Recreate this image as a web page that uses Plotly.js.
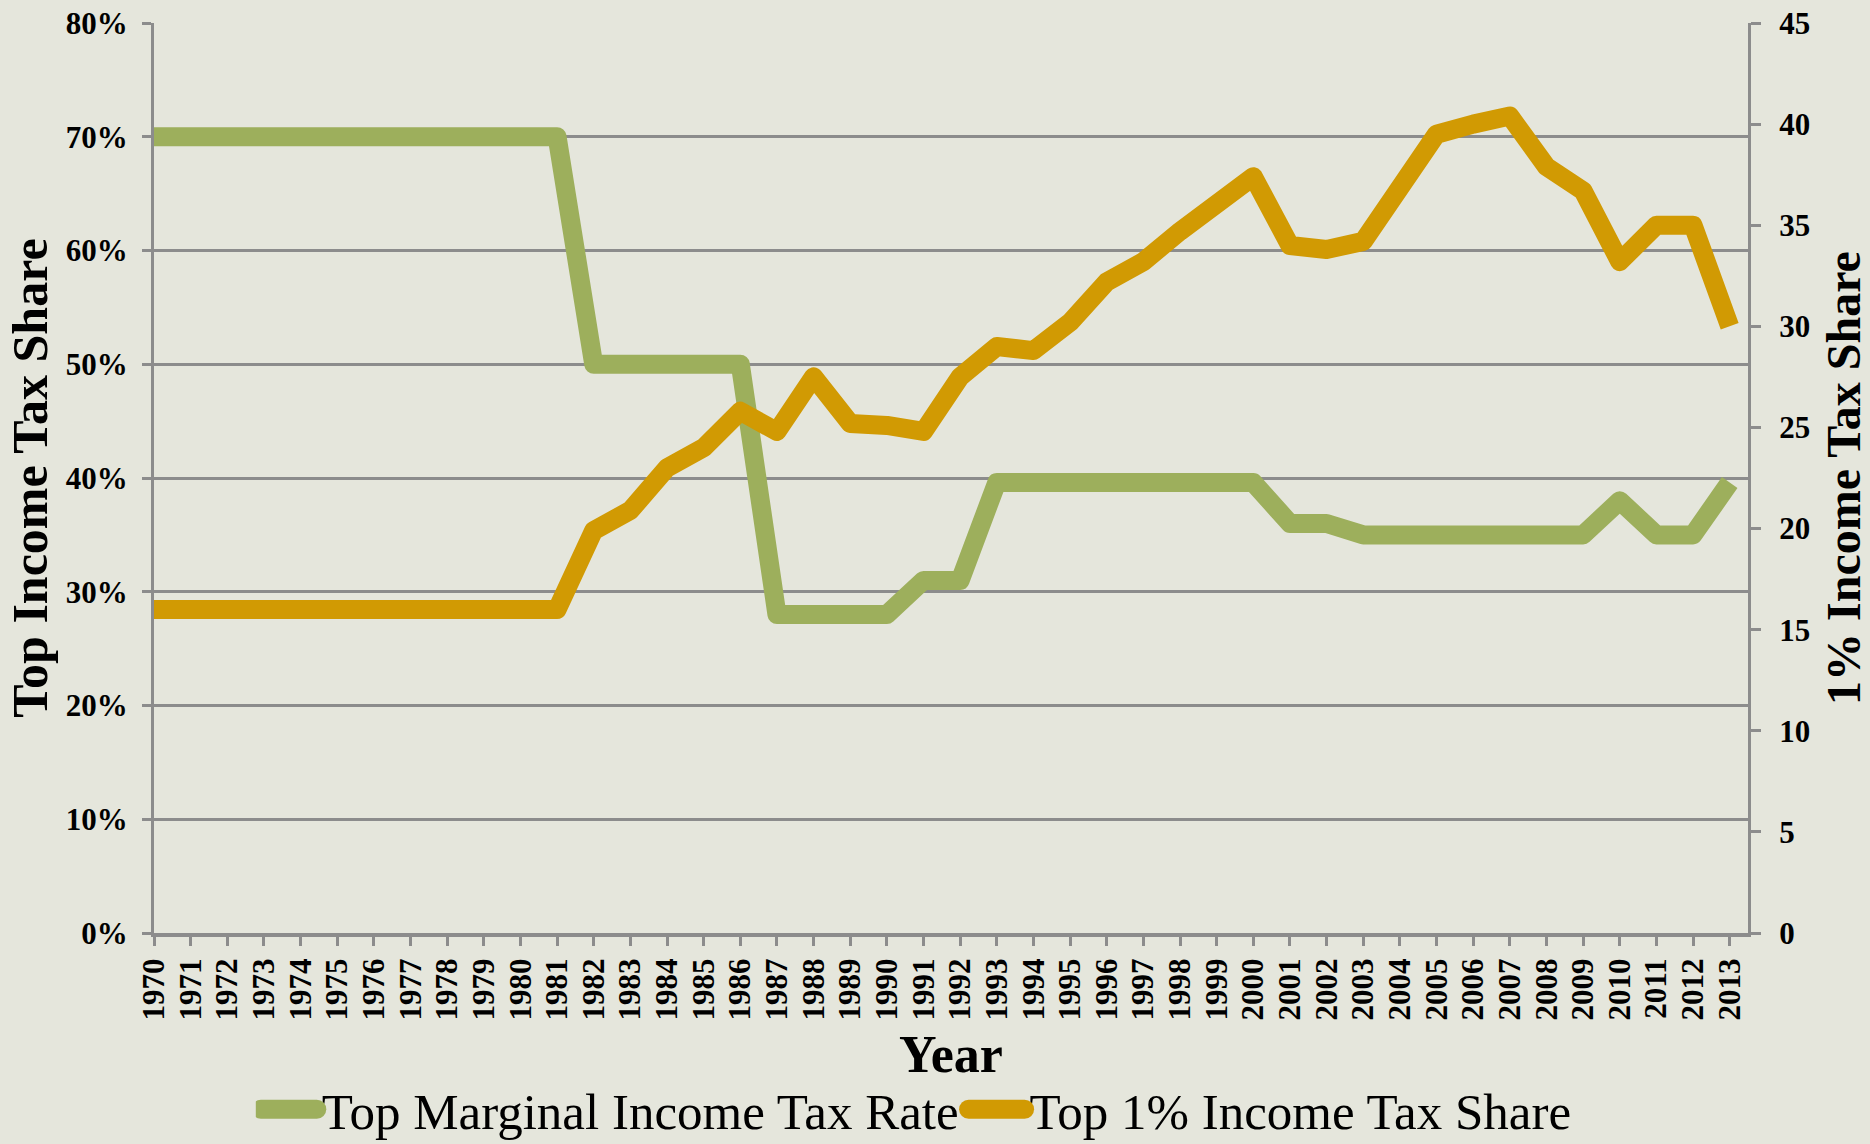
<!DOCTYPE html>
<html>
<head>
<meta charset="utf-8">
<script src="https://cdn.plot.ly/plotly-3.0.1.min.js"></script>
<style>
html,body{margin:0;padding:0;background:#E5E6DC;}
#chart{width:1870px;height:1144px;}
.scatterlayer .js-line{stroke-linejoin:round;}
</style>
</head>
<body>
<div id="chart"></div>
<script>
const years = [1970,1971,1972,1973,1974,1975,1976,1977,1978,1979,1980,1981,1982,1983,1984,1985,1986,1987,1988,1989,1990,1991,1992,1993,1994,1995,1996,1997,1998,1999,2000,2001,2002,2003,2004,2005,2006,2007,2008,2009,2010,2011,2012,2013];
const topMarginalRate = [70,70,70,70,70,70,70,70,70,70,70,70,50,50,50,50,50,28,28,28,28,31,31,39.6,39.6,39.6,39.6,39.6,39.6,39.6,39.6,36,36,35,35,35,35,35,35,35,38,35,35,39.6];
const top1Share = [16,16,16,16,16,16,16,16,16,16,16,16,19.9,20.9,23.0,24.0,25.8,24.8,27.5,25.2,25.1,24.8,27.5,29.0,28.8,30.2,32.2,33.2,34.7,36.1,37.4,34.0,33.8,34.2,36.9,39.5,40.0,40.4,37.9,36.7,33.2,35.0,35.0,30.0];
const leftTicks = [0,10,20,30,40,50,60,70,80];
const rightTicks = [0,5,10,15,20,25,30,35,40,45];
const seriesNames = ["Top Marginal Income Tax Rate","Top 1% Income Tax Share"];
const xTitle = "Year";

const serif = "'Liberation Serif', 'DejaVu Serif', serif";
const gridGray = "#8C8C8C";

const traces = [
  {x: years, y: topMarginalRate, name: seriesNames[0], type: "scatter", mode: "lines",
   line: {color: "#9DAF5C", width: 19}, yaxis: "y"},
  {x: years, y: top1Share, name: seriesNames[1], type: "scatter", mode: "lines",
   line: {color: "#D19A03", width: 19}, yaxis: "y2"}
];

const layout = {
  width: 1870, height: 1144,
  paper_bgcolor: "#E5E6DC", plot_bgcolor: "#E5E6DC",
  margin: {l: 154, r: 122, t: 23, b: 211},
  font: {family: serif, color: "#000"},
  showlegend: true,
  legend: {orientation: "h", xref: "container", yref: "container", x: 0.49, xanchor: "center",
           y: 0.03, yanchor: "middle", font: {family: serif, size: 51, color: "#000"},
           itemwidth: 56, bgcolor: "rgba(0,0,0,0)"},
  annotations: [
    {text: xTitle, xref: "paper", yref: "paper", x: 0.5, y: -0.134, xanchor: "center", yanchor: "middle",
     showarrow: false, font: {family: serif, size: 52, weight: "bold", color: "#000"}}
  ],
  xaxis: {
    type: "linear", range: [1970, 2013.5],
    tickvals: years, ticktext: years.map(String), tickangle: -90,
    tickfont: {family: serif, size: 31, weight: "bold", color: "#000"},
    ticks: "outside", ticklen: 9, tickwidth: 3, tickcolor: gridGray,
    showline: true, linecolor: gridGray, linewidth: 4, showgrid: false, zeroline: false
  },
  yaxis: {
    range: [0, 80], tickvals: leftTicks, ticktext: leftTicks.map(v => v + "%"),
    tickfont: {family: serif, size: 31, weight: "bold", color: "#000"},
    ticks: "outside", ticklen: 9, tickwidth: 3, tickcolor: gridGray, ticklabelstandoff: 8,
    showline: true, linecolor: gridGray, linewidth: 3,
    showgrid: true, gridcolor: gridGray, gridwidth: 3, zeroline: false,
    title: {text: "Top Income Tax Share", font: {family: serif, size: 50, weight: "bold", color: "#000"}, standoff: 3}
  },
  yaxis2: {
    overlaying: "y", side: "right", range: [0, 45], tickvals: rightTicks, ticktext: rightTicks.map(String),
    tickfont: {family: serif, size: 31, weight: "bold", color: "#000"},
    ticks: "outside", ticklen: 10, tickwidth: 3, tickcolor: gridGray, ticklabelstandoff: 12,
    showline: true, linecolor: gridGray, linewidth: 3, showgrid: false, zeroline: false,
    title: {text: "1% Income Tax Share", font: {family: serif, size: 48, weight: "bold", color: "#000"}, standoff: 21}
  }
};

Plotly.newPlot("chart", traces, layout, {displayModeBar: false, staticPlot: true}).then(gd => {
  gd.querySelectorAll(".legend .legendlines path").forEach(p => {
    p.style.strokeWidth = "19px";
    p.style.strokeLinecap = "round";
  });
});
</script>
</body>
</html>
